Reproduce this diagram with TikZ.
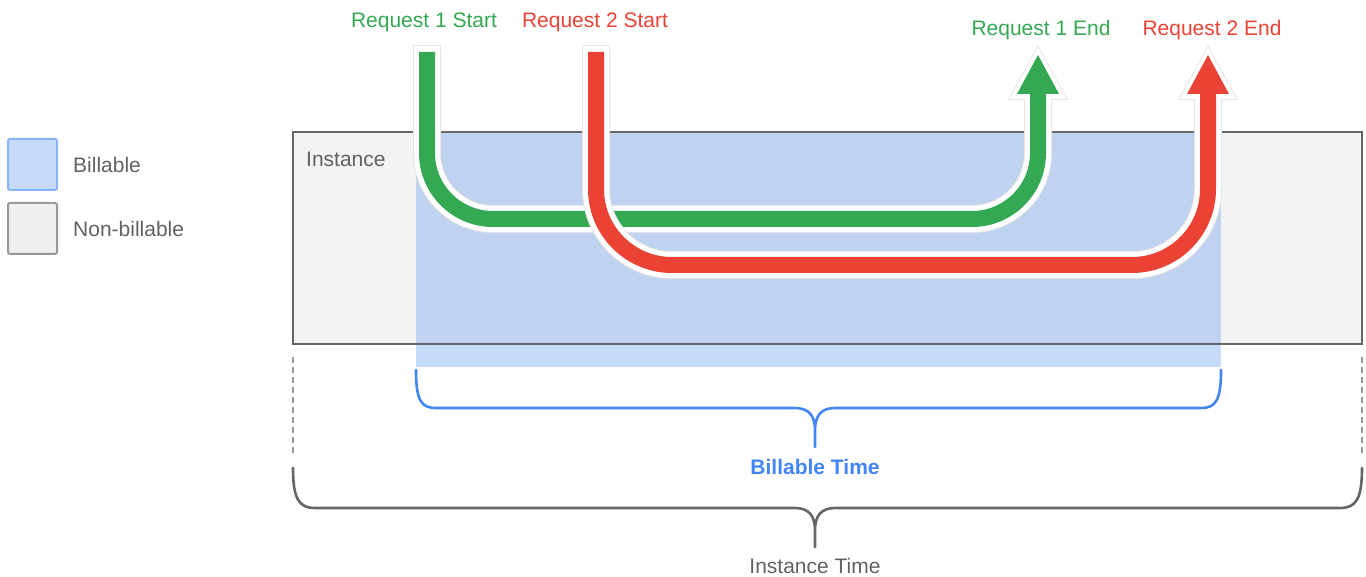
\documentclass[tikz,border=0pt]{standalone}
\usepackage{fontspec}
\setmainfont{Liberation Sans}
\usetikzlibrary{arrows.meta}

\definecolor{reqgreen}{HTML}{34A853}
\definecolor{reqred}{HTML}{EA4335}
\definecolor{billblue}{HTML}{4285F4}
\definecolor{billfill}{HTML}{C6DAFC}
\definecolor{billinside}{HTML}{BFD3F1}
\definecolor{billedge}{HTML}{8AB4F8}
\definecolor{instfill}{HTML}{F3F3F3}
\definecolor{instedge}{HTML}{666666}
\definecolor{nonbillfill}{HTML}{EFEFEF}
\definecolor{nonbilledge}{HTML}{999999}
\definecolor{labelgray}{HTML}{616161}
\definecolor{haloshade}{HTML}{E4E4E4}

\tikzset{
  txt/.style={font=\fontsize{21}{25}\selectfont, inner sep=0pt},
  reqline/.style 2 args={line width=16pt, draw=#1, rounded corners=#2,
    -{Triangle[width=42pt,length=39pt,line width=0pt]}},
  reqhalo/.style={line width=26pt, draw=white, rounded corners=#1,
    shorten >=-8pt, shorten <=-6pt,
    -{Triangle[width=57pt,length=52pt,line width=0pt]}},
  reqshade/.style={line width=28pt, draw=haloshade, rounded corners=#1,
    shorten >=-10pt, shorten <=-7pt,
    -{Triangle[width=60pt,length=55pt,line width=0pt]}},
  timebrace/.style={line width=2.6pt, line join=round, line cap=round},
}

\begin{document}
\begin{tikzpicture}[x=1pt,y=-1pt]
\useasboundingbox (0,0) rectangle (1366,577);

% legend
\draw[fill=billfill, draw=billedge, line width=2pt, rounded corners=2pt] (8,139) rectangle (57,190);
\draw[fill=nonbillfill, draw=nonbilledge, line width=2pt, rounded corners=2pt] (8,203) rectangle (57,254);
\node[txt, anchor=west, text=labelgray] (lgbill) at (73,165) {Billable};
\node[txt, anchor=west, text=labelgray] (lgnonbill) at (73,229) {Non-billable};

% instance and billable span
\fill[instfill] (293,132) rectangle (1362,344);
\fill[billinside] (416,132) rectangle (1221,344);
\fill[billfill] (416,344) rectangle (1221,367);
\draw[instedge, line width=2.5pt] (293,132) rectangle (1362,344);
\node[txt, anchor=west, text=labelgray] (instlabel) at (306,159) {Instance};

% request labels
\node[txt, text=reqgreen] (r1start) at (424,22) {Request 1 Start};
\node[txt, text=reqred] (r2start) at (595,22) {Request 2 Start};
\node[txt, text=reqgreen] (r1end) at (1041,30) {Request 1 End};
\node[txt, text=reqred] (r2end) at (1212,30) {Request 2 End};

\coordinate (r1in) at (427,52);
\coordinate (r1low) at (1038,219);
\coordinate (r1out) at (1038,55);
\coordinate (r2in) at (596,52);
\coordinate (r2low) at (1208,265);
\coordinate (r2out) at (1208,55);

% request 1
\draw[reqshade=66pt] (r1in) |- (r1low) -- (r1out);
\draw[reqhalo=66pt] (r1in) |- (r1low) -- (r1out);
\draw[reqline={reqgreen}{66pt}] (r1in) |- (r1low) -- (r1out);
% request 2
\draw[reqshade=76pt] (r2in) |- (r2low) -- (r2out);
\draw[reqhalo=76pt] (r2in) |- (r2low) -- (r2out);
\draw[reqline={reqred}{76pt}] (r2in) |- (r2low) -- (r2out);

% billable time brace
\draw[timebrace, billblue] (416,370) .. controls (416,400) and (421,408) .. (436,408)
  -- (795,408) .. controls (809,408) and (815,416) .. (815,430) -- (815,447)
  -- (815,430) .. controls (815,416) and (821,408) .. (835,408)
  -- (1201,408) .. controls (1216,408) and (1221,400) .. (1221,370);
\node[txt, font=\fontsize{21}{25}\selectfont\bfseries, text=billblue] (billtime) at (815,467) {Billable Time};

% instance time brace
\draw[nonbilledge, line width=2pt, dash pattern=on 6pt off 4pt] (293,357) -- (293,457);
\draw[nonbilledge, line width=2pt, dash pattern=on 6pt off 4pt] (1362,357) -- (1362,457);
\draw[timebrace, instedge] (293,468) .. controls (293,499) and (299,508) .. (315,508)
  -- (795,508) .. controls (809,508) and (815,516) .. (815,530) -- (815,547)
  -- (815,530) .. controls (815,516) and (821,508) .. (835,508)
  -- (1340,508) .. controls (1356,508) and (1362,499) .. (1362,468);
\node[txt, text=labelgray] (insttime) at (815,566) {Instance Time};
\end{tikzpicture}
\end{document}
